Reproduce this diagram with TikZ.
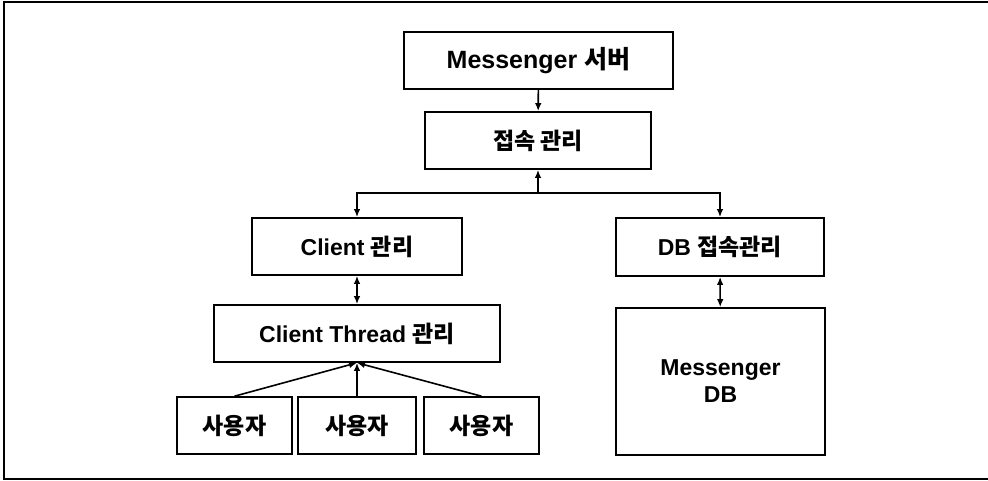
\documentclass[tikz,border=0pt]{standalone}
\usepackage{fontspec}
\setmainfont{Liberation Sans}
\newfontfamily\kr{Noto Sans CJK KR}[Scale=1.0]
\usetikzlibrary{arrows.meta}
\begin{document}
\begin{tikzpicture}[x=1pt,y=-1pt,
  box/.style={draw,line width=1.6pt,inner sep=0pt,align=center,
    font=\bfseries\fontsize{23}{27}\selectfont},
  tip/.tip={Latex[length=8pt,width=6.5pt]},
  link/.style={line width=1.6pt,-tip},
  both/.style={line width=1.6pt,tip-tip}]
\useasboundingbox (0,0) rectangle (988,481);
% outer frame (open on the right)
\draw[line width=1.6pt] (988,2) -- (4,2) -- (4,479) -- (988,479);

% server side
\node[box,minimum width=269pt,minimum height=57pt,
      font=\bfseries\fontsize{25}{30}\selectfont] (srv) at (538.5,60.5) {Messenger {\kr 서버}};
\node[box,minimum width=226pt,minimum height=57pt] (conn) at (538,140.5) {{\kr 접속 관리}};

% client branch
\node[box,minimum width=210pt,minimum height=57pt] (cli) at (357,246.5) {Client {\kr 관리}};
\node[box,minimum width=286pt,minimum height=57pt] (thr) at (357,333.5) {Client Thread {\kr 관리}};
\node[box,minimum width=115pt,minimum height=57pt] (u1) at (234.5,425.5) {{\kr 사용자}};
\node[box,minimum width=118pt,minimum height=57pt] (u2) at (357,425.5) {{\kr 사용자}};
\node[box,minimum width=115pt,minimum height=57pt] (u3) at (481.5,425.5) {{\kr 사용자}};

% database branch
\node[box,minimum width=208pt,minimum height=58pt] (dbc) at (720,247) {DB {\kr 접속관리}};
\node[box,minimum width=209pt,minimum height=147pt] (db) at (720.5,381.5) {Messenger\\DB};

% connectors
\coordinate (hub) at (538,193);
\draw[link] (srv) -- (conn);
\draw[link] (hub) -- (conn);
\draw[link] (hub) -| (cli);
\draw[link] (hub) -| (dbc);
\draw[both] (cli) -- (thr);
\draw[both] (dbc) -- (db);
\draw[link] (u1.north) -- (thr.south);
\draw[link] (u2.north) -- (thr.south);
\draw[link] (u3.north) -- (thr.south);
\end{tikzpicture}
\end{document}
